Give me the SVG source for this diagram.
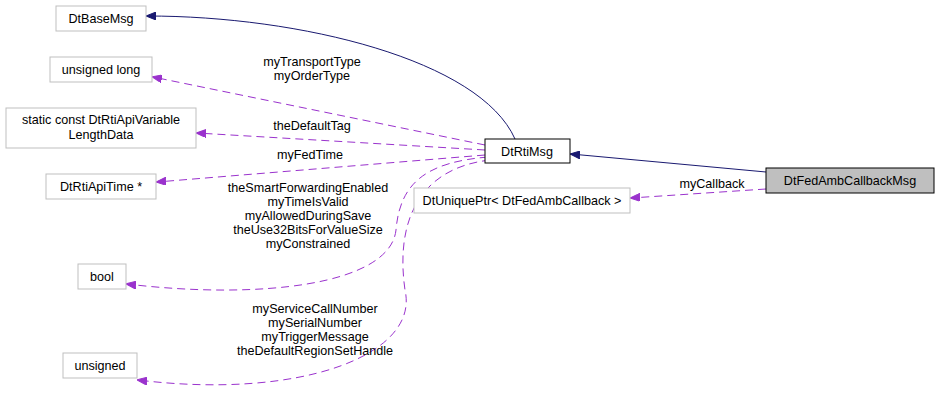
<svg xmlns="http://www.w3.org/2000/svg" width="939" height="406" viewBox="0 0 939 406">
<defs>
<marker id="an" markerWidth="10" markerHeight="8" refX="9" refY="4" orient="auto" markerUnits="userSpaceOnUse"><path d="M0,0 L10,4 L0,8 Z" fill="#191970" stroke="#191970"/></marker>
<marker id="ap" markerWidth="10" markerHeight="8" refX="9" refY="4" orient="auto" markerUnits="userSpaceOnUse"><path d="M0,0 L10,4 L0,8 Z" fill="#9a32cd" stroke="#9a32cd"/></marker>
</defs>
<style>
text{font-family:"Liberation Sans",Arial,sans-serif;font-size:12.6px;fill:#000}
.n rect{fill:#fff;stroke:#bfbfbf}
.s{fill:none;stroke:#191970;marker-end:url(#an)}
.d{fill:none;stroke:#9a32cd;stroke-dasharray:8,5;marker-end:url(#ap)}
.m{text-anchor:middle}
</style>
<g id="connectors">
<path class="s" d="M515,139 C480,60 300,16 147,16"/>
<path class="s" d="M766,172 L571,154"/>
<path class="d" d="M766,189 L631,198"/>
<path class="d" d="M485,145 L153,77"/>
<path class="d" d="M485,150 L197,133"/>
<path class="d" d="M485,155 L157,182"/>
<path class="d" d="M488,157 C430,162 400,180 396,230 C390,285 260,300 127,284"/>
<path class="d" d="M490,160 C420,168 395,220 405,290 C420,355 300,400 138,380"/>
<text class="m" x="712" y="188">myCallback</text>
<text class="m" x="312" y="66">myTransportType</text>
<text class="m" x="312" y="80">myOrderType</text>
<text class="m" x="312" y="130">theDefaultTag</text>
<text class="m" x="310" y="159">myFedTime</text>
<text class="m" x="308" y="192">theSmartForwardingEnabled</text>
<text class="m" x="308" y="206">myTimeIsValid</text>
<text class="m" x="308" y="220">myAllowedDuringSave</text>
<text class="m" x="308" y="234">theUse32BitsForValueSize</text>
<text class="m" x="308" y="248">myConstrained</text>
<text class="m" x="315" y="313">myServiceCallNumber</text>
<text class="m" x="315" y="327">mySerialNumber</text>
<text class="m" x="315" y="341">myTriggerMessage</text>
<text class="m" x="315" y="355">theDefaultRegionSetHandle</text>
</g>
<g id="DtBaseMsg" class="n"><rect x="56" y="6" width="90" height="25"/><text class="m" x="101" y="23">DtBaseMsg</text></g>
<g id="unsignedlong" class="n"><rect x="50" y="57" width="102" height="25"/><text class="m" x="101" y="74">unsigned long</text></g>
<g id="LengthData" class="n"><rect x="6" y="108" width="190" height="40"/><text class="m" x="101" y="124">static const DtRtiApiVariable</text><text class="m" x="101" y="139">LengthData</text></g>
<g id="DtRtiApiTime" class="n"><rect x="46" y="174" width="110" height="25"/><text class="m" x="101" y="191">DtRtiApiTime *</text></g>
<g id="bool" class="n"><rect x="78" y="264" width="48" height="25"/><text class="m" x="102" y="281">bool</text></g>
<g id="unsigned" class="n"><rect x="63" y="353" width="74" height="25"/><text class="m" x="100" y="370">unsigned</text></g>
<g id="DtRtiMsg"><rect x="485" y="139" width="85" height="24" fill="#fff" stroke="#000"/><text class="m" x="527" y="156">DtRtiMsg</text></g>
<g id="DtUniquePtr" class="n"><rect x="414" y="188" width="216" height="25"/><text class="m" x="522" y="205">DtUniquePtr&lt; DtFedAmbCallback &gt;</text></g>
<g id="DtFedAmbCallbackMsg"><rect x="766" y="168" width="168" height="25" fill="#bfbfbf" stroke="#000"/><text class="m" x="850" y="185">DtFedAmbCallbackMsg</text></g>
</svg>
